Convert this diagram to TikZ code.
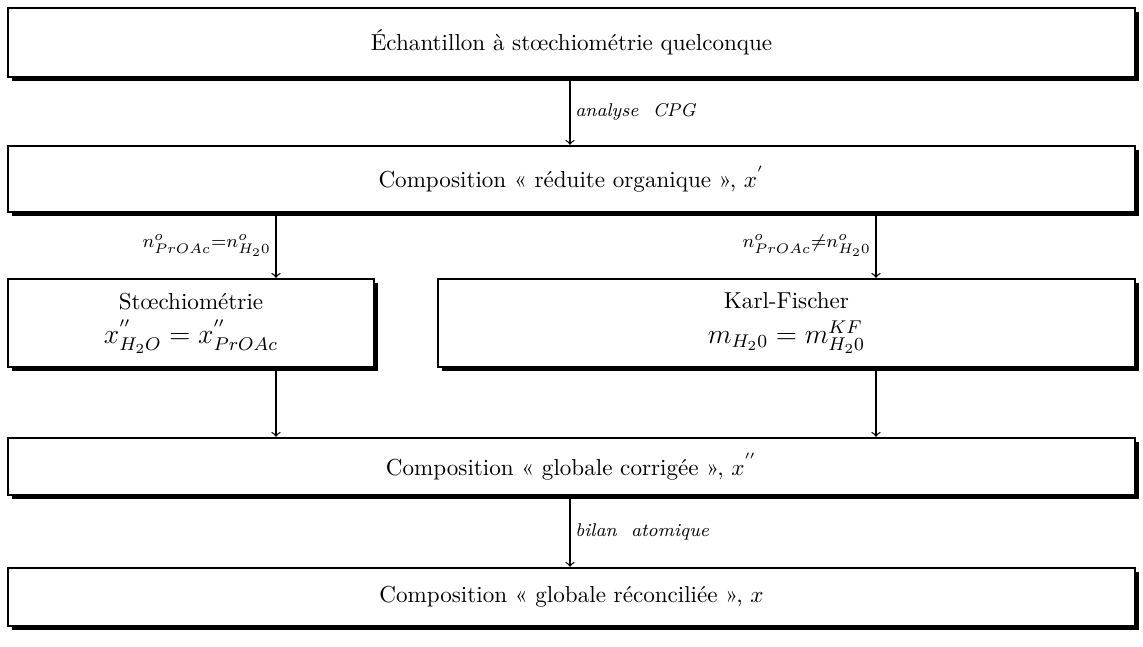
\documentclass[tikz,border=0pt]{standalone}
\usepackage{fontspec}
\usepackage{amsmath}
\usetikzlibrary{shadows}

\tikzset{
  etape/.style={draw, line width=1pt, fill=white, align=center,
    general shadow={fill=black, shadow xshift=1.7pt, shadow yshift=-1.7pt}},
  fleche/.style={->, line width=0.55pt},
  etiq/.style={font=\footnotesize\itshape, inner sep=2pt}
}

\begin{document}
\begin{tikzpicture}[x=0.433pt, y=-0.433pt]
  \useasboundingbox (0,0) rectangle (1143,647);

  % colonnes des fleches
  \coordinate (colC) at (570,0);
  \coordinate (colG) at (276,0);
  \coordinate (colD) at (876,0);

  % boites
  \node[etape, minimum width=488pt, minimum height=29.9pt] (ech) at (571.5,42.5)
    {Échantillon à stœchiométrie quelconque};
  \node[etape, minimum width=488pt, minimum height=28.6pt] (red) at (571.5,179)
    {Composition « réduite organique », $x^{'}$};
  \node[etape, minimum width=158.5pt, minimum height=38.1pt] (sto) at (191,323)
    {Stœchiométrie\\[3pt] \large$x^{''}_{H_2O} = x^{''}_{PrOAc}$};
  \node[etape, minimum width=301.8pt, minimum height=38.1pt] (kf) at (786.5,323)
    {Karl-Fischer\\[3pt] \large$m_{H_20} = m^{KF}_{H_20}$};
  \node[etape, minimum width=488pt, minimum height=24.7pt] (cor) at (571.5,466.5)
    {Composition « globale corrigée », $x^{''}$};
  \node[etape, minimum width=488pt, minimum height=25.1pt] (rec) at (571.5,597)
    {Composition « globale réconciliée », $x$};

  % fleches
  \draw[fleche] (colC |- ech.south) -- node[etiq, right] {analyse\ \ CPG} (colC |- red.north);
  \draw[fleche] (colG |- red.south) -- node[etiq, left, font=\footnotesize]
    {$n^o_{PrOAc}{=}n^o_{H_20}$} (colG |- sto.north);
  \draw[fleche] (colD |- red.south) -- node[etiq, left, font=\footnotesize]
    {$n^o_{PrOAc}{\neq}n^o_{H_20}$} (colD |- kf.north);
  \draw[fleche] (colG |- sto.south) -- (colG |- cor.north);
  \draw[fleche] (colD |- kf.south) -- (colD |- cor.north);
  \draw[fleche] (colC |- cor.south) -- node[etiq, right] {bilan\ \ atomique} (colC |- rec.north);
\end{tikzpicture}
\end{document}
